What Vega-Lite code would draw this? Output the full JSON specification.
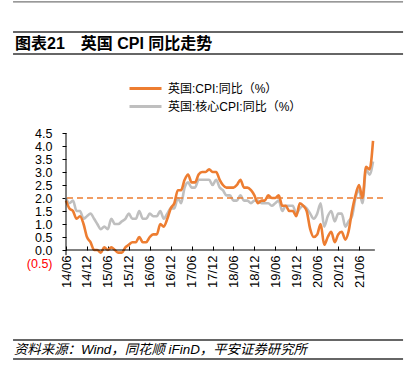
{
  "$schema": "https://vega.github.io/schema/vega-lite/v6.json",
  "width": 317,
  "height": 130,
  "autosize": {"type": "none"},
  "padding": {"left": 66, "top": 133, "right": 28, "bottom": 113},
  "background": "white",
  "config": {
    "view": {"stroke": null},
    "font": "Liberation Sans, Noto Sans CJK SC, sans-serif"
  },
  "resolve": {"axis": {"x": "independent", "y": "independent"}},
  "data": {"values": [
    {"date":"2014-06-01","cpi":1.9,"core":2.0},{"date":"2014-07-01","cpi":1.6,"core":1.8},{"date":"2014-08-01","cpi":1.5,"core":1.9},{"date":"2014-09-01","cpi":1.2,"core":1.5},{"date":"2014-10-01","cpi":1.3,"core":1.5},{"date":"2014-11-01","cpi":1.0,"core":1.2},{"date":"2014-12-01","cpi":0.5,"core":1.3},
    {"date":"2015-01-01","cpi":0.3,"core":1.4},{"date":"2015-02-01","cpi":0.0,"core":1.2},{"date":"2015-03-01","cpi":0.0,"core":1.0},{"date":"2015-04-01","cpi":-0.1,"core":0.8},{"date":"2015-05-01","cpi":0.1,"core":0.9},{"date":"2015-06-01","cpi":0.0,"core":0.8},{"date":"2015-07-01","cpi":0.1,"core":1.2},{"date":"2015-08-01","cpi":0.0,"core":1.0},{"date":"2015-09-01","cpi":-0.1,"core":1.0},{"date":"2015-10-01","cpi":-0.1,"core":1.1},{"date":"2015-11-01","cpi":0.1,"core":1.2},{"date":"2015-12-01","cpi":0.2,"core":1.4},
    {"date":"2016-01-01","cpi":0.3,"core":1.2},{"date":"2016-02-01","cpi":0.3,"core":1.2},{"date":"2016-03-01","cpi":0.5,"core":1.5},{"date":"2016-04-01","cpi":0.3,"core":1.2},{"date":"2016-05-01","cpi":0.3,"core":1.2},{"date":"2016-06-01","cpi":0.5,"core":1.4},{"date":"2016-07-01","cpi":0.6,"core":1.3},{"date":"2016-08-01","cpi":0.6,"core":1.3},{"date":"2016-09-01","cpi":1.0,"core":1.5},{"date":"2016-10-01","cpi":0.9,"core":1.2},{"date":"2016-11-01","cpi":1.2,"core":1.4},{"date":"2016-12-01","cpi":1.6,"core":1.6},
    {"date":"2017-01-01","cpi":1.8,"core":1.6},{"date":"2017-02-01","cpi":2.3,"core":2.0},{"date":"2017-03-01","cpi":2.3,"core":1.8},{"date":"2017-04-01","cpi":2.7,"core":2.4},{"date":"2017-05-01","cpi":2.9,"core":2.6},{"date":"2017-06-01","cpi":2.6,"core":2.4},{"date":"2017-07-01","cpi":2.6,"core":2.4},{"date":"2017-08-01","cpi":2.9,"core":2.7},{"date":"2017-09-01","cpi":3.0,"core":2.7},{"date":"2017-10-01","cpi":3.0,"core":2.7},{"date":"2017-11-01","cpi":3.1,"core":2.7},{"date":"2017-12-01","cpi":3.0,"core":2.5},
    {"date":"2018-01-01","cpi":3.0,"core":2.7},{"date":"2018-02-01","cpi":2.7,"core":2.4},{"date":"2018-03-01","cpi":2.5,"core":2.3},{"date":"2018-04-01","cpi":2.4,"core":2.1},{"date":"2018-05-01","cpi":2.4,"core":2.1},{"date":"2018-06-01","cpi":2.4,"core":1.9},{"date":"2018-07-01","cpi":2.5,"core":1.9},{"date":"2018-08-01","cpi":2.7,"core":2.1},{"date":"2018-09-01","cpi":2.4,"core":1.9},{"date":"2018-10-01","cpi":2.4,"core":1.9},{"date":"2018-11-01","cpi":2.3,"core":1.8},{"date":"2018-12-01","cpi":2.1,"core":1.9},
    {"date":"2019-01-01","cpi":1.8,"core":1.9},{"date":"2019-02-01","cpi":1.9,"core":1.8},{"date":"2019-03-01","cpi":1.9,"core":1.8},{"date":"2019-04-01","cpi":2.1,"core":1.8},{"date":"2019-05-01","cpi":2.0,"core":1.7},{"date":"2019-06-01","cpi":2.0,"core":1.8},{"date":"2019-07-01","cpi":2.1,"core":1.9},{"date":"2019-08-01","cpi":1.7,"core":1.5},{"date":"2019-09-01","cpi":1.7,"core":1.7},{"date":"2019-10-01","cpi":1.5,"core":1.7},{"date":"2019-11-01","cpi":1.5,"core":1.7},{"date":"2019-12-01","cpi":1.3,"core":1.4},
    {"date":"2020-01-01","cpi":1.8,"core":1.6},{"date":"2020-02-01","cpi":1.7,"core":1.7},{"date":"2020-03-01","cpi":1.5,"core":1.6},{"date":"2020-04-01","cpi":0.8,"core":1.4},{"date":"2020-05-01","cpi":0.5,"core":1.2},{"date":"2020-06-01","cpi":0.6,"core":1.4},{"date":"2020-07-01","cpi":1.0,"core":1.8},{"date":"2020-08-01","cpi":0.2,"core":0.9},{"date":"2020-09-01","cpi":0.5,"core":1.3},{"date":"2020-10-01","cpi":0.7,"core":1.5},{"date":"2020-11-01","cpi":0.3,"core":1.1},{"date":"2020-12-01","cpi":0.6,"core":1.4},
    {"date":"2021-01-01","cpi":0.7,"core":1.4},{"date":"2021-02-01","cpi":0.4,"core":0.9},{"date":"2021-03-01","cpi":0.7,"core":1.1},{"date":"2021-04-01","cpi":1.5,"core":1.3},{"date":"2021-05-01","cpi":2.1,"core":2.0},{"date":"2021-06-01","cpi":2.5,"core":2.3},{"date":"2021-07-01","cpi":2.0,"core":1.8},{"date":"2021-08-01","cpi":3.2,"core":3.1},{"date":"2021-09-01","cpi":3.1,"core":2.9},{"date":"2021-10-01","cpi":4.2,"core":3.4}
  ]},
  "layer": [
    {
      "mark": {"type": "line", "interpolate": "monotone", "strokeWidth": 2.6},
      "encoding": {
        "x": {"field": "date", "type": "temporal", "title": null,
          "scale": {"type": "utc", "domain": [{"year": 2014, "month": 6, "date": 1, "utc": true}, {"year": 2021, "month": 12, "date": 27, "utc": true}]},
          "axis": {
            "values": [
              {"year": 2014, "month": 6, "date": 1, "utc": true}, {"year": 2014, "month": 12, "date": 1, "utc": true},
              {"year": 2015, "month": 6, "date": 1, "utc": true}, {"year": 2015, "month": 12, "date": 1, "utc": true},
              {"year": 2016, "month": 6, "date": 1, "utc": true}, {"year": 2016, "month": 12, "date": 1, "utc": true},
              {"year": 2017, "month": 6, "date": 1, "utc": true}, {"year": 2017, "month": 12, "date": 1, "utc": true},
              {"year": 2018, "month": 6, "date": 1, "utc": true}, {"year": 2018, "month": 12, "date": 1, "utc": true},
              {"year": 2019, "month": 6, "date": 1, "utc": true}, {"year": 2019, "month": 12, "date": 1, "utc": true},
              {"year": 2020, "month": 6, "date": 1, "utc": true}, {"year": 2020, "month": 12, "date": 1, "utc": true},
              {"year": 2021, "month": 6, "date": 1, "utc": true}
            ],
            "labelExpr": "utcFormat(datum.value, '%y/%m')",
            "labelAngle": -90, "labelFlush": false, "labelOverlap": false, "labelBound": false,
            "domain": false, "grid": false, "tickSize": -4, "tickColor": "black", "tickWidth": 1, "labelPadding": 9, "offset": -13,
            "labelFontSize": 13, "labelColor": "black", "title": null
          }
        },
        "y": {"field": "core", "type": "quantitative", "title": null,
          "scale": {"domain": [-0.5, 4.5], "nice": false, "zero": false},
          "axis": {
            "values": [-0.5, 0, 0.5, 1, 1.5, 2, 2.5, 3, 3.5, 4, 4.5],
            "labelExpr": "datum.value < 0 ? '(' + format(-datum.value, '.1f') + ')' : format(datum.value, '.1f')",
            "labelColor": {"condition": {"test": "datum.value < 0", "value": "#FF0000"}, "value": "black"},
            "tickColor": {"condition": {"test": "datum.value < 0", "value": "transparent"}, "value": "black"},
            "domain": false, "grid": false, "tickSize": 4, "tickWidth": 1, "labelPadding": 10, "labelFontSize": 12.5,
            "labelOverlap": false, "labelFlush": false, "labelBound": false, "title": null
          }
        },
        "color": {"datum": "英国:核心CPI:同比（%）",
          "scale": {"domain": ["英国:核心CPI:同比（%）"], "range": ["#BFBFBF"]},
          "legend": {"orient": "none", "legendX": 62, "legendY": -44, "title": null, "symbolType": "stroke", "symbolSize": 1024, "symbolStrokeWidth": 3,
            "labelFontSize": 12, "labelColor": "black", "labelOffset": 5, "padding": 0}
        }
      }
    },
    {
      "data": {"values": [{"target": 2}]},
      "mark": {"type": "rule", "color": "#ED7D31", "strokeWidth": 1.5, "strokeDash": [6, 4]},
      "encoding": {
        "y": {"field": "target", "type": "quantitative", "axis": null, "scale": {"domain": [-0.5, 4.5], "nice": false, "zero": false}}
      }
    },
    {
      "mark": {"type": "line", "interpolate": "monotone", "strokeWidth": 2.6},
      "encoding": {
        "x": {"field": "date", "type": "temporal", "axis": null,
          "scale": {"type": "utc", "domain": [{"year": 2014, "month": 6, "date": 1, "utc": true}, {"year": 2021, "month": 12, "date": 27, "utc": true}]}},
        "y": {"field": "cpi", "type": "quantitative", "axis": null, "scale": {"domain": [-0.5, 4.5], "nice": false, "zero": false}},
        "stroke": {"datum": "英国:CPI:同比（%）",
          "scale": {"domain": ["英国:CPI:同比（%）"], "range": ["#ED7D31"]},
          "legend": {"orient": "none", "legendX": 62, "legendY": -62, "title": null, "symbolType": "stroke", "symbolSize": 1024, "symbolStrokeWidth": 3,
            "labelFontSize": 12, "labelColor": "black", "labelOffset": 5, "padding": 0}
        }
      }
    },
    {
      "data": {"values": [{"axis": "x"}]},
      "mark": {"type": "rule", "color": "black", "strokeWidth": 1},
      "encoding": {
        "x": {"datum": {"year": 2014, "month": 6, "date": 1, "utc": true}, "type": "temporal", "axis": null,
          "scale": {"type": "utc", "domain": [{"year": 2014, "month": 6, "date": 1, "utc": true}, {"year": 2021, "month": 12, "date": 27, "utc": true}]}},
        "x2": {"datum": {"year": 2021, "month": 10, "date": 17, "utc": true}},
        "y": {"datum": 0, "type": "quantitative", "axis": null, "scale": {"domain": [-0.5, 4.5], "nice": false, "zero": false}}
      }
    },
    {
      "data": {"values": [{"axis": "y"}]},
      "mark": {"type": "rule", "color": "black", "strokeWidth": 1},
      "encoding": {
        "x": {"datum": {"year": 2014, "month": 6, "date": 1, "utc": true}, "type": "temporal", "axis": null,
          "scale": {"type": "utc", "domain": [{"year": 2014, "month": 6, "date": 1, "utc": true}, {"year": 2021, "month": 12, "date": 27, "utc": true}]}},
        "y": {"datum": -0.2, "type": "quantitative", "axis": null, "scale": {"domain": [-0.5, 4.5], "nice": false, "zero": false}},
        "y2": {"datum": 4.5}
      }
    },
    {
      "data": {"values": [{"line": "page top"}]},
      "mark": {"type": "rule", "color": "#777777", "strokeWidth": 1.2},
      "encoding": {
        "x": {"datum": {"year": 2013, "month": 2, "date": 24, "utc": true}, "type": "temporal", "axis": null,
          "scale": {"type": "utc", "domain": [{"year": 2014, "month": 6, "date": 1, "utc": true}, {"year": 2021, "month": 12, "date": 27, "utc": true}]}},
        "x2": {"datum": {"year": 2022, "month": 6, "date": 20, "utc": true}},
        "y": {"datum": 9.54, "type": "quantitative", "axis": null, "scale": {"domain": [-0.5, 4.5], "nice": false, "zero": false}}
      }
    },
    {
      "data": {"values": [{"line": "title top"}]},
      "mark": {"type": "rule", "color": "#333333", "strokeWidth": 1.3},
      "encoding": {
        "x": {"datum": {"year": 2013, "month": 2, "date": 24, "utc": true}, "type": "temporal", "axis": null,
          "scale": {"type": "utc", "domain": [{"year": 2014, "month": 6, "date": 1, "utc": true}, {"year": 2021, "month": 12, "date": 27, "utc": true}]}},
        "x2": {"datum": {"year": 2022, "month": 6, "date": 20, "utc": true}},
        "y": {"datum": 8.385, "type": "quantitative", "axis": null, "scale": {"domain": [-0.5, 4.5], "nice": false, "zero": false}}
      }
    },
    {
      "data": {"values": [{"line": "title bottom"}]},
      "mark": {"type": "rule", "color": "#333333", "strokeWidth": 1.3},
      "encoding": {
        "x": {"datum": {"year": 2013, "month": 2, "date": 24, "utc": true}, "type": "temporal", "axis": null,
          "scale": {"type": "utc", "domain": [{"year": 2014, "month": 6, "date": 1, "utc": true}, {"year": 2021, "month": 12, "date": 27, "utc": true}]}},
        "x2": {"datum": {"year": 2022, "month": 6, "date": 20, "utc": true}},
        "y": {"datum": 7.538, "type": "quantitative", "axis": null, "scale": {"domain": [-0.5, 4.5], "nice": false, "zero": false}}
      }
    },
    {
      "data": {"values": [{"line": "source top"}]},
      "mark": {"type": "rule", "color": "#333333", "strokeWidth": 1.3},
      "encoding": {
        "x": {"datum": {"year": 2013, "month": 2, "date": 24, "utc": true}, "type": "temporal", "axis": null,
          "scale": {"type": "utc", "domain": [{"year": 2014, "month": 6, "date": 1, "utc": true}, {"year": 2021, "month": 12, "date": 27, "utc": true}]}},
        "x2": {"datum": {"year": 2022, "month": 6, "date": 20, "utc": true}},
        "y": {"datum": -3.462, "type": "quantitative", "axis": null, "scale": {"domain": [-0.5, 4.5], "nice": false, "zero": false}}
      }
    },
    {
      "data": {"values": [{"line": "source bottom"}]},
      "mark": {"type": "rule", "color": "#333333", "strokeWidth": 1.3},
      "encoding": {
        "x": {"datum": {"year": 2013, "month": 2, "date": 24, "utc": true}, "type": "temporal", "axis": null,
          "scale": {"type": "utc", "domain": [{"year": 2014, "month": 6, "date": 1, "utc": true}, {"year": 2021, "month": 12, "date": 27, "utc": true}]}},
        "x2": {"datum": {"year": 2022, "month": 6, "date": 20, "utc": true}},
        "y": {"datum": -4.192, "type": "quantitative", "axis": null, "scale": {"domain": [-0.5, 4.5], "nice": false, "zero": false}}
      }
    },
    {
      "data": {"values": [{"label": "图表21\u3000英国 CPI 同比走势"}]},
      "mark": {"type": "text", "align": "left", "baseline": "middle", "fontSize": 16, "fontWeight": "bold", "color": "black"},
      "encoding": {
        "x": {"datum": {"year": 2013, "month": 3, "date": 13, "utc": true}, "type": "temporal", "axis": null,
          "scale": {"type": "utc", "domain": [{"year": 2014, "month": 6, "date": 1, "utc": true}, {"year": 2021, "month": 12, "date": 27, "utc": true}]}},
        "y": {"datum": 7.92, "type": "quantitative", "axis": null, "scale": {"domain": [-0.5, 4.5], "nice": false, "zero": false}},
        "text": {"field": "label"}
      }
    },
    {
      "data": {"values": [{"label": "资料来源：Wind，同花顺 iFinD，平安证券研究所"}]},
      "mark": {"type": "text", "align": "left", "baseline": "middle", "fontSize": 13.4, "fontStyle": "italic", "color": "black"},
      "encoding": {
        "x": {"datum": {"year": 2013, "month": 3, "date": 4, "utc": true}, "type": "temporal", "axis": null,
          "scale": {"type": "utc", "domain": [{"year": 2014, "month": 6, "date": 1, "utc": true}, {"year": 2021, "month": 12, "date": 27, "utc": true}]}},
        "y": {"datum": -3.846, "type": "quantitative", "axis": null, "scale": {"domain": [-0.5, 4.5], "nice": false, "zero": false}},
        "text": {"field": "label"}
      }
    }
  ]
}
